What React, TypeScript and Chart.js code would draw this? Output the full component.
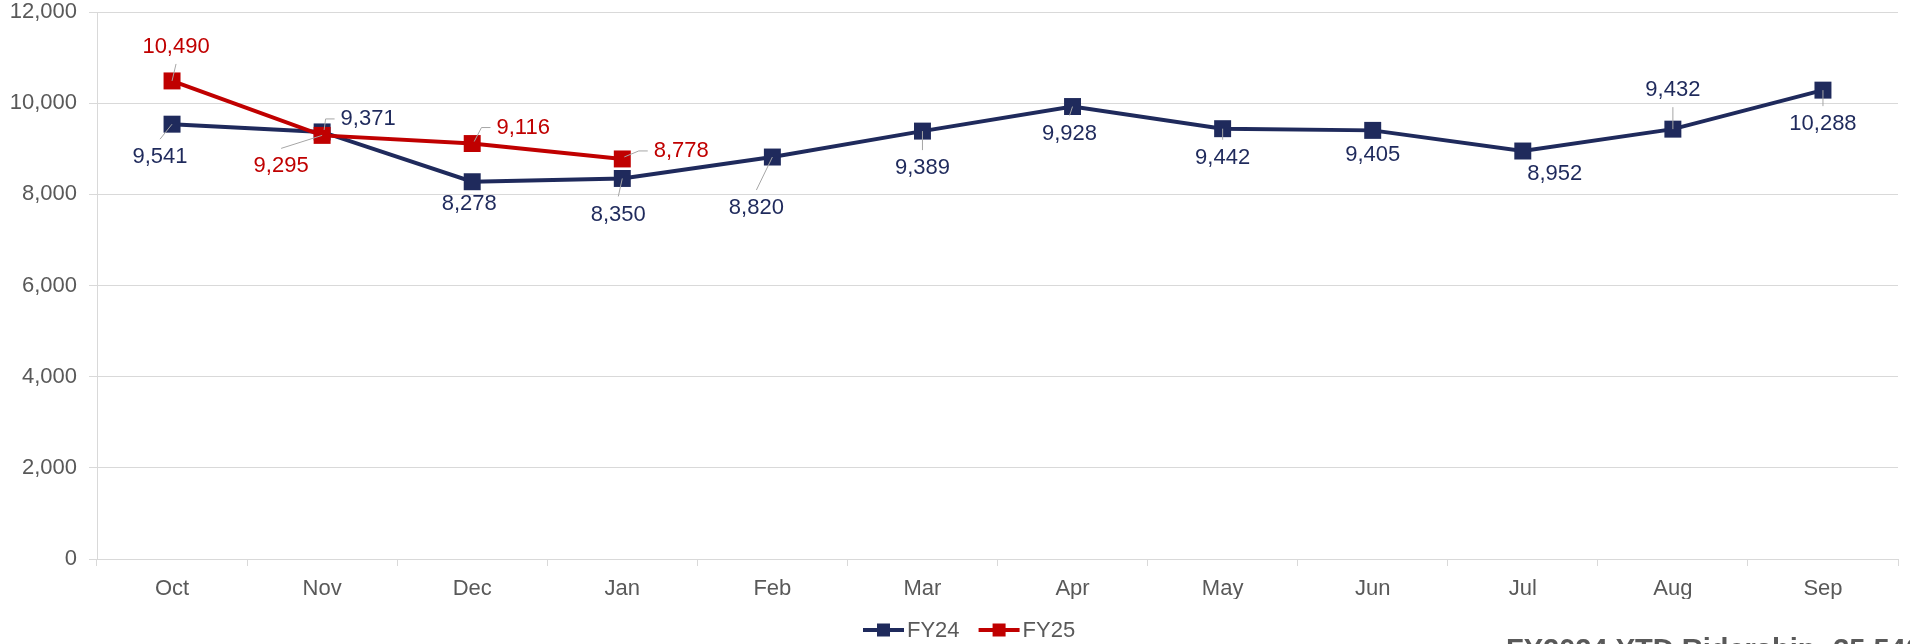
import React, { useEffect, useRef } from "react";
import { Chart, registerables } from "chart.js";

Chart.register(...registerables);

// ---- data ----
const months = ["Oct", "Nov", "Dec", "Jan", "Feb", "Mar", "Apr", "May", "Jun", "Jul", "Aug", "Sep"];
const fy24 = [9541, 9371, 8278, 8350, 8820, 9389, 9928, 9442, 9405, 8952, 9432, 10288];
const fy25 = [10490, 9295, 9116, 8778];
const yMin = 0;
const yMax = 12000;
const yStep = 2000;
const footnote = "FY2024 YTD Ridership: 35,540";

// ---- label placement (offset of label centre from its point, px) ----
const fy24LabelOffsets = [[-12, 33], [46, -13], [-3, 22], [-4, 36], [-16, 51], [0, 37], [-3, 27], [0, 29], [0, 25], [32, 23], [0, -39], [0, 34]];
const fy24Leaders = ["v", "h", null, "v", "v", "v", "v", "v", null, null, "v", "v"];
const fy25LabelOffsets = [[4, -34], [-41, 31], [51, -16], [59, -8]];
const fy25Leaders = ["v", "v", "h", "h"];

const NAVY = "#1F2A5C";
const RED = "#C00000";
const GREY_TEXT = "#595959";
const GRID = "#D9D9D9";
const FONT = "'Liberation Sans', Arial, sans-serif";

const fmt = (v: number) => v.toLocaleString("en-US");

const pointLabelPlugin = {
  id: "pointLabels",
  afterDatasetsDraw(chart: any) {
    const ctx = chart.ctx;
    ctx.save();
    ctx.font = `22px ${FONT}`;
    chart.data.datasets.forEach((ds: any, di: number) => {
      const meta = chart.getDatasetMeta(di);
      meta.data.forEach((pt: any, i: number) => {
        const text = fmt(ds.data[i]);
        const [dx, dy] = ds.labelOffsets[i];
        const cx = pt.x + dx;
        const cy = pt.y + dy;
        const w = ctx.measureText(text).width;
        const leader = ds.leaders[i];
        if (leader) {
          ctx.strokeStyle = "#A6A6A6";
          ctx.lineWidth = 1;
          ctx.beginPath();
          if (leader === "h") {
            const side = dx > 0 ? -1 : 1;
            const ax = cx + side * (w / 2 + 6);
            ctx.moveTo(ax, cy);
            ctx.lineTo(ax + side * 9, cy);
            ctx.lineTo(pt.x + 2, pt.y - 2);
          } else {
            const ay = dy > 0 ? cy - 18 : cy + 17;
            ctx.moveTo(cx, ay);
            ctx.lineTo(pt.x, pt.y);
          }
          ctx.stroke();
        }
        ctx.fillStyle = ds.borderColor;
        ctx.textAlign = "center";
        ctx.textBaseline = "middle";
        ctx.fillText(text, cx, cy);
      });
    });
    ctx.restore();
  },
};

const legendAndNotePlugin = {
  id: "customLegend",
  afterDraw(chart: any) {
    const ctx = chart.ctx;
    ctx.save();
    ctx.font = `22px ${FONT}`;
    const y = 630;
    let x = 863;
    chart.data.datasets.forEach((ds: any) => {
      const lineW = 41;
      ctx.strokeStyle = ds.borderColor;
      ctx.lineWidth = 4;
      ctx.beginPath();
      ctx.moveTo(x, y);
      ctx.lineTo(x + lineW, y);
      ctx.stroke();
      ctx.fillStyle = ds.borderColor;
      ctx.fillRect(x + lineW / 2 - 6.5, y - 6.5, 13, 13);
      ctx.fillStyle = GREY_TEXT;
      ctx.textAlign = "left";
      ctx.textBaseline = "middle";
      const tx = x + lineW + 3;
      ctx.fillText(ds.label, tx, y + 1);
      x = tx + ctx.measureText(ds.label).width + 19;
    });
    ctx.font = `bold 29px ${FONT}`;
    ctx.fillStyle = GREY_TEXT;
    ctx.textAlign = "left";
    ctx.textBaseline = "alphabetic";
    ctx.fillText(footnote, 1506, 659);
    ctx.restore();
  },
};

export default function App() {
  const ref = useRef<HTMLCanvasElement | null>(null);

  useEffect(() => {
    if (!ref.current) return;
    const chart = new Chart(ref.current, {
      type: "line",
      data: {
        labels: months,
        datasets: [
          {
            label: "FY24",
            data: fy24,
            borderColor: NAVY,
            backgroundColor: NAVY,
            pointBackgroundColor: NAVY,
            pointBorderColor: NAVY,
            borderWidth: 4,
            pointStyle: "rect",
            pointRadius: 12,
            pointBorderWidth: 0,
            tension: 0,
            order: 2,
            labelOffsets: fy24LabelOffsets,
            leaders: fy24Leaders,
          } as any,
          {
            label: "FY25",
            data: fy25,
            borderColor: RED,
            backgroundColor: RED,
            pointBackgroundColor: RED,
            pointBorderColor: RED,
            borderWidth: 4,
            pointStyle: "rect",
            pointRadius: 12,
            pointBorderWidth: 0,
            tension: 0,
            order: 1,
            labelOffsets: fy25LabelOffsets,
            leaders: fy25Leaders,
          } as any,
        ],
      },
      options: {
        animation: false,
        responsive: false,
        maintainAspectRatio: false,
        layout: { padding: { left: 0, right: 0, top: 0, bottom: 45 } },
        plugins: {
          legend: { display: false },
          tooltip: { enabled: false },
          title: { display: false },
        },
        scales: {
          x: {
            offset: true,
            grid: {
              display: true,
              drawOnChartArea: false,
              drawTicks: true,
              tickLength: 7,
              color: GRID,
              offset: true,
            },
            border: { display: true, color: GRID, width: 1 },
            ticks: {
              color: GREY_TEXT,
              font: { family: FONT, size: 22, lineHeight: 1 },
              padding: 12,
              maxRotation: 0,
            },
            afterFit: (s: any) => {
              s.height = 40;
            },
          },
          y: {
            min: yMin,
            max: yMax,
            grid: { color: GRID, tickLength: 8, drawTicks: true },
            border: { display: true, color: GRID, width: 1 },
            ticks: {
              stepSize: yStep,
              color: GREY_TEXT,
              font: { family: FONT, size: 22, lineHeight: 0.01 },
              padding: 12,
              callback: (v: any) => fmt(Number(v)),
            },
            afterFit: (s: any) => {
              s.width = 97;
            },
          },
        },
      },
      plugins: [pointLabelPlugin, legendAndNotePlugin],
    });
    return () => chart.destroy();
  }, []);

  return (
    <div
      style={{
        position: "fixed",
        left: 0,
        top: 0,
        width: 1910,
        height: 644,
        overflow: "hidden",
        background: "#fff",
      }}
    >
      <canvas ref={ref} width={1910} height={644} style={{ display: "block" }} />
    </div>
  );
}
